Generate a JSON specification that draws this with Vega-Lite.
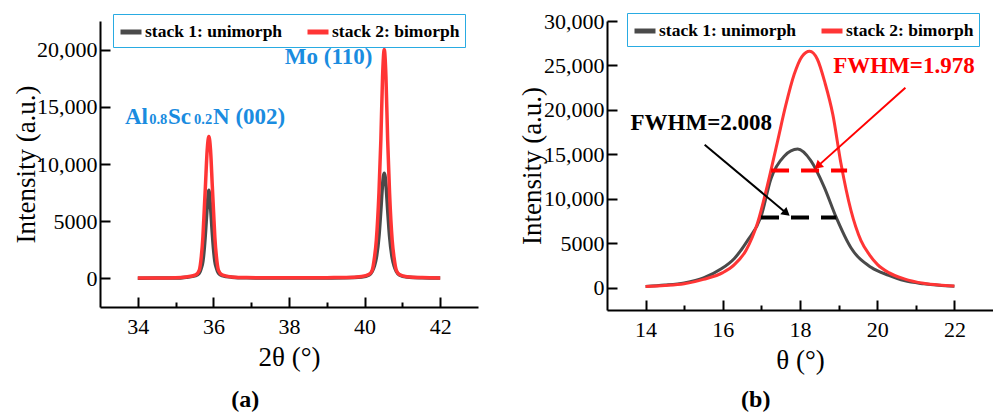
{
  "$schema": "https://vega.github.io/schema/vega-lite/v6.json",
  "padding": {"left": 12, "top": 10, "right": 0, "bottom": 0},
  "background": "white",
  "spacing": 129,
  "bounds": "flush",
  "config": {
    "view": {"stroke": null},
    "font": "Liberation Serif",
    "axis": {
      "ticks": true,
      "domainColor": "black", "domainWidth": 2, "tickColor": "black", "tickWidth": 2,
      "labelFont": "Liberation Serif", "labelFontSize": 22, "labelColor": "black",
      "titleFont": "Liberation Serif", "titleFontSize": 27, "titleFontWeight": "normal", "titleColor": "black",
      "grid": false, "labelOverlap": false, "labelFlush": false
    }
  },
  "resolve": {"legend": {"color": "independent"}, "scale": {"color": "independent"}},
  "datasets": {
    "pa": [
      {"angle": 34, "intensity": 20, "series": "stack 1: unimorph"},
      {"angle": 34.5, "intensity": 25, "series": "stack 1: unimorph"},
      {"angle": 35, "intensity": 35, "series": "stack 1: unimorph"},
      {"angle": 35.28, "intensity": 110, "series": "stack 1: unimorph"},
      {"angle": 35.53, "intensity": 250, "series": "stack 1: unimorph"},
      {"angle": 35.625, "intensity": 450, "series": "stack 1: unimorph"},
      {"angle": 35.68, "intensity": 900, "series": "stack 1: unimorph"},
      {"angle": 35.722, "intensity": 1500, "series": "stack 1: unimorph"},
      {"angle": 35.755, "intensity": 2500, "series": "stack 1: unimorph"},
      {"angle": 35.788, "intensity": 3900, "series": "stack 1: unimorph"},
      {"angle": 35.835, "intensity": 6200, "series": "stack 1: unimorph"},
      {"angle": 35.88, "intensity": 7700, "series": "stack 1: unimorph"},
      {"angle": 35.925, "intensity": 6200, "series": "stack 1: unimorph"},
      {"angle": 35.972, "intensity": 3900, "series": "stack 1: unimorph"},
      {"angle": 36.005, "intensity": 2500, "series": "stack 1: unimorph"},
      {"angle": 36.038, "intensity": 1500, "series": "stack 1: unimorph"},
      {"angle": 36.08, "intensity": 900, "series": "stack 1: unimorph"},
      {"angle": 36.135, "intensity": 450, "series": "stack 1: unimorph"},
      {"angle": 36.23, "intensity": 250, "series": "stack 1: unimorph"},
      {"angle": 36.48, "intensity": 110, "series": "stack 1: unimorph"},
      {"angle": 36.88, "intensity": 50, "series": "stack 1: unimorph"},
      {"angle": 37.5, "intensity": 30, "series": "stack 1: unimorph"},
      {"angle": 38, "intensity": 25, "series": "stack 1: unimorph"},
      {"angle": 38.5, "intensity": 28, "series": "stack 1: unimorph"},
      {"angle": 39, "intensity": 35, "series": "stack 1: unimorph"},
      {"angle": 39.52, "intensity": 50, "series": "stack 1: unimorph"},
      {"angle": 39.92, "intensity": 120, "series": "stack 1: unimorph"},
      {"angle": 40.12, "intensity": 300, "series": "stack 1: unimorph"},
      {"angle": 40.2, "intensity": 600, "series": "stack 1: unimorph"},
      {"angle": 40.26, "intensity": 1100, "series": "stack 1: unimorph"},
      {"angle": 40.31, "intensity": 1800, "series": "stack 1: unimorph"},
      {"angle": 40.38, "intensity": 3700, "series": "stack 1: unimorph"},
      {"angle": 40.43, "intensity": 6000, "series": "stack 1: unimorph"},
      {"angle": 40.475, "intensity": 8200, "series": "stack 1: unimorph"},
      {"angle": 40.52, "intensity": 9200, "series": "stack 1: unimorph"},
      {"angle": 40.565, "intensity": 8200, "series": "stack 1: unimorph"},
      {"angle": 40.61, "intensity": 6000, "series": "stack 1: unimorph"},
      {"angle": 40.66, "intensity": 3700, "series": "stack 1: unimorph"},
      {"angle": 40.73, "intensity": 1800, "series": "stack 1: unimorph"},
      {"angle": 40.78, "intensity": 1100, "series": "stack 1: unimorph"},
      {"angle": 40.84, "intensity": 600, "series": "stack 1: unimorph"},
      {"angle": 40.92, "intensity": 300, "series": "stack 1: unimorph"},
      {"angle": 41.12, "intensity": 120, "series": "stack 1: unimorph"},
      {"angle": 41.52, "intensity": 50, "series": "stack 1: unimorph"},
      {"angle": 42, "intensity": 25, "series": "stack 1: unimorph"},
      {"angle": 34, "intensity": 40, "series": "stack 2: bimorph"},
      {"angle": 34.5, "intensity": 45, "series": "stack 2: bimorph"},
      {"angle": 35, "intensity": 65, "series": "stack 2: bimorph"},
      {"angle": 35.28, "intensity": 125, "series": "stack 2: bimorph"},
      {"angle": 35.53, "intensity": 300, "series": "stack 2: bimorph"},
      {"angle": 35.625, "intensity": 700, "series": "stack 2: bimorph"},
      {"angle": 35.68, "intensity": 1900, "series": "stack 2: bimorph"},
      {"angle": 35.722, "intensity": 3620, "series": "stack 2: bimorph"},
      {"angle": 35.755, "intensity": 5800, "series": "stack 2: bimorph"},
      {"angle": 35.788, "intensity": 8000, "series": "stack 2: bimorph"},
      {"angle": 35.835, "intensity": 11200, "series": "stack 2: bimorph"},
      {"angle": 35.88, "intensity": 12400, "series": "stack 2: bimorph"},
      {"angle": 35.925, "intensity": 11200, "series": "stack 2: bimorph"},
      {"angle": 35.972, "intensity": 8000, "series": "stack 2: bimorph"},
      {"angle": 36.005, "intensity": 5800, "series": "stack 2: bimorph"},
      {"angle": 36.038, "intensity": 3620, "series": "stack 2: bimorph"},
      {"angle": 36.08, "intensity": 1900, "series": "stack 2: bimorph"},
      {"angle": 36.135, "intensity": 700, "series": "stack 2: bimorph"},
      {"angle": 36.23, "intensity": 300, "series": "stack 2: bimorph"},
      {"angle": 36.48, "intensity": 125, "series": "stack 2: bimorph"},
      {"angle": 36.88, "intensity": 70, "series": "stack 2: bimorph"},
      {"angle": 37.5, "intensity": 55, "series": "stack 2: bimorph"},
      {"angle": 38, "intensity": 50, "series": "stack 2: bimorph"},
      {"angle": 38.5, "intensity": 55, "series": "stack 2: bimorph"},
      {"angle": 39, "intensity": 65, "series": "stack 2: bimorph"},
      {"angle": 39.52, "intensity": 75, "series": "stack 2: bimorph"},
      {"angle": 39.92, "intensity": 160, "series": "stack 2: bimorph"},
      {"angle": 40.12, "intensity": 355, "series": "stack 2: bimorph"},
      {"angle": 40.2, "intensity": 700, "series": "stack 2: bimorph"},
      {"angle": 40.26, "intensity": 1800, "series": "stack 2: bimorph"},
      {"angle": 40.31, "intensity": 3330, "series": "stack 2: bimorph"},
      {"angle": 40.38, "intensity": 7500, "series": "stack 2: bimorph"},
      {"angle": 40.43, "intensity": 12100, "series": "stack 2: bimorph"},
      {"angle": 40.475, "intensity": 17600, "series": "stack 2: bimorph"},
      {"angle": 40.52, "intensity": 20000, "series": "stack 2: bimorph"},
      {"angle": 40.565, "intensity": 17600, "series": "stack 2: bimorph"},
      {"angle": 40.61, "intensity": 12100, "series": "stack 2: bimorph"},
      {"angle": 40.66, "intensity": 7500, "series": "stack 2: bimorph"},
      {"angle": 40.73, "intensity": 3330, "series": "stack 2: bimorph"},
      {"angle": 40.78, "intensity": 1800, "series": "stack 2: bimorph"},
      {"angle": 40.84, "intensity": 700, "series": "stack 2: bimorph"},
      {"angle": 40.92, "intensity": 350, "series": "stack 2: bimorph"},
      {"angle": 41.12, "intensity": 150, "series": "stack 2: bimorph"},
      {"angle": 41.52, "intensity": 70, "series": "stack 2: bimorph"},
      {"angle": 42, "intensity": 45, "series": "stack 2: bimorph"}
    ],
    "pb": [
      {"angle": 14.0, "intensity": 150, "series": "stack 1: unimorph"},
      {"angle": 14.5, "intensity": 300, "series": "stack 1: unimorph"},
      {"angle": 15.0, "intensity": 550, "series": "stack 1: unimorph"},
      {"angle": 15.5, "intensity": 1100, "series": "stack 1: unimorph"},
      {"angle": 15.95, "intensity": 2100, "series": "stack 1: unimorph"},
      {"angle": 16.3, "intensity": 3300, "series": "stack 1: unimorph"},
      {"angle": 16.64, "intensity": 5300, "series": "stack 1: unimorph"},
      {"angle": 16.99, "intensity": 8000, "series": "stack 1: unimorph"},
      {"angle": 17.25, "intensity": 12300, "series": "stack 1: unimorph"},
      {"angle": 17.59, "intensity": 14800, "series": "stack 1: unimorph"},
      {"angle": 17.94, "intensity": 15600, "series": "stack 1: unimorph"},
      {"angle": 18.28, "intensity": 14300, "series": "stack 1: unimorph"},
      {"angle": 18.63, "intensity": 11300, "series": "stack 1: unimorph"},
      {"angle": 18.93, "intensity": 8000, "series": "stack 1: unimorph"},
      {"angle": 19.32, "intensity": 4500, "series": "stack 1: unimorph"},
      {"angle": 19.84, "intensity": 2300, "series": "stack 1: unimorph"},
      {"angle": 20.3, "intensity": 1400, "series": "stack 1: unimorph"},
      {"angle": 20.7, "intensity": 800, "series": "stack 1: unimorph"},
      {"angle": 21.2, "intensity": 450, "series": "stack 1: unimorph"},
      {"angle": 21.6, "intensity": 280, "series": "stack 1: unimorph"},
      {"angle": 22.0, "intensity": 180, "series": "stack 1: unimorph"},
      {"angle": 14.0, "intensity": 150, "series": "stack 2: bimorph"},
      {"angle": 14.5, "intensity": 250, "series": "stack 2: bimorph"},
      {"angle": 15.0, "intensity": 450, "series": "stack 2: bimorph"},
      {"angle": 15.5, "intensity": 950, "series": "stack 2: bimorph"},
      {"angle": 16.0, "intensity": 1700, "series": "stack 2: bimorph"},
      {"angle": 16.3, "intensity": 2600, "series": "stack 2: bimorph"},
      {"angle": 16.6, "intensity": 4200, "series": "stack 2: bimorph"},
      {"angle": 16.9, "intensity": 7300, "series": "stack 2: bimorph"},
      {"angle": 17.16, "intensity": 11600, "series": "stack 2: bimorph"},
      {"angle": 17.42, "intensity": 16500, "series": "stack 2: bimorph"},
      {"angle": 17.63, "intensity": 20500, "series": "stack 2: bimorph"},
      {"angle": 17.85, "intensity": 24000, "series": "stack 2: bimorph"},
      {"angle": 18.05, "intensity": 26000, "series": "stack 2: bimorph"},
      {"angle": 18.25, "intensity": 26600, "series": "stack 2: bimorph"},
      {"angle": 18.45, "intensity": 25700, "series": "stack 2: bimorph"},
      {"angle": 18.65, "intensity": 23000, "series": "stack 2: bimorph"},
      {"angle": 18.85, "intensity": 19500, "series": "stack 2: bimorph"},
      {"angle": 19.06, "intensity": 14000, "series": "stack 2: bimorph"},
      {"angle": 19.32, "intensity": 8700, "series": "stack 2: bimorph"},
      {"angle": 19.58, "intensity": 5300, "series": "stack 2: bimorph"},
      {"angle": 19.8, "intensity": 3700, "series": "stack 2: bimorph"},
      {"angle": 20.01, "intensity": 2600, "series": "stack 2: bimorph"},
      {"angle": 20.3, "intensity": 1700, "series": "stack 2: bimorph"},
      {"angle": 20.7, "intensity": 1000, "series": "stack 2: bimorph"},
      {"angle": 21.2, "intensity": 500, "series": "stack 2: bimorph"},
      {"angle": 21.6, "intensity": 300, "series": "stack 2: bimorph"},
      {"angle": 22.0, "intensity": 200, "series": "stack 2: bimorph"}
    ]
  },
  "hconcat": [
    {
      "width": 378,
      "height": 286,
      "title": {"text": "(a)", "orient": "bottom", "frame": "bounds", "anchor": "middle", "offset": 18, "fontSize": 24, "fontWeight": "bold", "font": "Liberation Serif", "color": "black"},
      "layer": [
        {
          "data": {"name": "pa"},
          "mark": {"type": "line", "strokeWidth": 3.5, "interpolate": "monotone"},
          "encoding": {
            "x": {"field": "angle", "type": "quantitative",
              "scale": {"domain": [33, 43], "nice": false, "zero": false},
              "axis": {"title": "2θ (°)", "values": [34, 35, 36, 37, 38, 39, 40, 41, 42],
                "labelExpr": "datum.value % 2 == 0 ? datum.label : ''",
                "tickSize": {"condition": {"test": "datum.value % 2 != 0", "value": -5}, "value": -10},
                "labelPadding": 19, "titlePadding": 2}},
            "y": {"field": "intensity", "type": "quantitative",
              "scale": {"domain": [-2500, 22500], "nice": false, "zero": false},
              "axis": {"title": "Intensity (a.u.)", "values": [0, 2500, 5000, 7500, 10000, 12500, 15000, 17500, 20000, 22500],
                "labelExpr": "datum.value % 5000 != 0 ? '' : (datum.value >= 10000 ? format(datum.value, ',') : format(datum.value, 'd'))",
                "tickSize": {"condition": {"test": "datum.value % 5000 != 0", "value": -5}, "value": -10},
                "labelPadding": 13, "titlePadding": -4}},
            "color": {"field": "series", "type": "nominal",
              "scale": {"domain": ["stack 1: unimorph", "stack 2: bimorph"], "range": ["#4a4a4a", "#ff3535"]},
              "legend": {"orient": "none", "legendX": 13, "legendY": -7, "direction": "horizontal", "title": null,
                "strokeColor": "#29abe2", "fillColor": "white", "padding": 5,
                "symbolType": "stroke", "symbolStrokeWidth": 5, "symbolSize": 441,
                "labelFont": "Liberation Serif", "labelFontWeight": "bold", "labelFontSize": 17.5, "labelColor": "black",
                "columnPadding": 14, "labelOffset": 1}}
          }
        },
        {
          "data": {"values": [{"angle": 37.89, "intensity": 18770, "label": "Mo (110)"}, {"angle": 33.66, "intensity": 13500, "label": "Al"}, {"angle": 34.80, "intensity": 13500, "label": "Sc"}, {"angle": 35.99, "intensity": 13500, "label": "N (002)"}]},
          "mark": {"type": "text", "align": "left", "baseline": "alphabetic", "font": "Liberation Serif", "fontWeight": "bold", "fontSize": 23, "color": "#1a8ce0"},
          "encoding": {
            "x": {"field": "angle", "type": "quantitative"},
            "y": {"field": "intensity", "type": "quantitative"},
            "text": {"field": "label"}
          }
        },
        {
          "data": {"values": [{"angle": 34.30, "intensity": 13500, "label": "0.8"}, {"angle": 35.49, "intensity": 13500, "label": "0.2"}]},
          "mark": {"type": "text", "align": "left", "baseline": "alphabetic", "font": "Liberation Serif", "fontWeight": "bold", "fontSize": 14.5, "color": "#1a8ce0"},
          "encoding": {
            "x": {"field": "angle", "type": "quantitative"},
            "y": {"field": "intensity", "type": "quantitative"},
            "text": {"field": "label"}
          }
        }
      ]
    },
    {
      "width": 386,
      "height": 289,
      "title": {"text": "(b)", "orient": "bottom", "frame": "bounds", "anchor": "middle", "offset": 15, "fontSize": 24, "fontWeight": "bold", "font": "Liberation Serif", "color": "black"},
      "layer": [
        {
          "data": {"name": "pb"},
          "mark": {"type": "line", "strokeWidth": 3, "interpolate": "monotone"},
          "encoding": {
            "x": {"field": "angle", "type": "quantitative",
              "scale": {"domain": [13, 23], "nice": false, "zero": false},
              "axis": {"title": "θ (°)", "values": [14, 15, 16, 17, 18, 19, 20, 21, 22],
                "labelExpr": "datum.value % 2 == 0 ? datum.label : ''",
                "tickSize": {"condition": {"test": "datum.value % 2 != 0", "value": -5}, "value": -10},
                "labelPadding": 19, "titlePadding": 2}},
            "y": {"field": "intensity", "type": "quantitative",
              "scale": {"domain": [-2500, 30000], "nice": false, "zero": false},
              "axis": {"title": "Intensity (a.u.)", "values": [0, 2500, 5000, 7500, 10000, 12500, 15000, 17500, 20000, 22500, 25000, 27500, 30000],
                "labelExpr": "datum.value % 5000 != 0 ? '' : (datum.value >= 10000 ? format(datum.value, ',') : format(datum.value, 'd'))",
                "tickSize": {"condition": {"test": "datum.value % 5000 != 0", "value": -5}, "value": -10},
                "labelPadding": 13, "titlePadding": -3}},
            "color": {"field": "series", "type": "nominal",
              "scale": {"domain": ["stack 1: unimorph", "stack 2: bimorph"], "range": ["#4a4a4a", "#ff3535"]},
              "legend": {"orient": "none", "legendX": 20, "legendY": -8, "direction": "horizontal", "title": null,
                "strokeColor": "#29abe2", "fillColor": "white", "padding": 5,
                "symbolType": "stroke", "symbolStrokeWidth": 5, "symbolSize": 441,
                "labelFont": "Liberation Serif", "labelFontWeight": "bold", "labelFontSize": 17.5, "labelColor": "black",
                "columnPadding": 14, "labelOffset": 1}}
          }
        },
        {
          "data": {"values": [{"start": 17.25, "end": 19.22, "level": 13200}]},
          "mark": {"type": "rule", "color": "#ff0000", "strokeWidth": 4, "strokeDash": [18, 12]},
          "encoding": {
            "x": {"field": "start", "type": "quantitative"},
            "x2": {"field": "end"},
            "y": {"field": "level", "type": "quantitative"}
          }
        },
        {
          "data": {"values": [{"start": 16.99, "end": 18.94, "level": 7900}]},
          "mark": {"type": "rule", "color": "#000000", "strokeWidth": 4, "strokeDash": [18, 12]},
          "encoding": {
            "x": {"field": "start", "type": "quantitative"},
            "x2": {"field": "end"},
            "y": {"field": "level", "type": "quantitative"}
          }
        },
        {
          "data": {"values": [{"xs": 20.73, "ys": 22480, "xe": 18.46, "ye": 13680}]},
          "mark": {"type": "rule", "color": "#ff0000", "strokeWidth": 2},
          "encoding": {
            "x": {"field": "xs", "type": "quantitative"},
            "y": {"field": "ys", "type": "quantitative"},
            "x2": {"field": "xe"},
            "y2": {"field": "ye"}
          }
        },
        {
          "data": {"values": [{"xs": 15.53, "ys": 16073, "xe": 17.65, "ye": 8385}]},
          "mark": {"type": "rule", "color": "#000000", "strokeWidth": 2},
          "encoding": {
            "x": {"field": "xs", "type": "quantitative"},
            "y": {"field": "ys", "type": "quantitative"},
            "x2": {"field": "xe"},
            "y2": {"field": "ye"}
          }
        },
        {
          "data": {"values": [{"xp": 18.46, "yp": 13680}]},
          "mark": {"type": "point", "shape": "triangle-up", "angle": 228, "filled": true, "size": 90, "color": "#ff0000", "opacity": 1},
          "encoding": {
            "x": {"field": "xp", "type": "quantitative"},
            "y": {"field": "yp", "type": "quantitative"}
          }
        },
        {
          "data": {"values": [{"xp": 17.65, "yp": 8385}]},
          "mark": {"type": "point", "shape": "triangle-up", "angle": 130, "filled": true, "size": 90, "color": "#000000", "opacity": 1},
          "encoding": {
            "x": {"field": "xp", "type": "quantitative"},
            "y": {"field": "yp", "type": "quantitative"}
          }
        },
        {
          "data": {"values": [{"xp": 18.86, "yp": 24166, "label": "FWHM=1.978"}]},
          "mark": {"type": "text", "align": "left", "baseline": "alphabetic", "font": "Liberation Serif", "fontWeight": "bold", "fontSize": 23, "color": "#ff0000"},
          "encoding": {
            "x": {"field": "xp", "type": "quantitative"},
            "y": {"field": "yp", "type": "quantitative"},
            "text": {"field": "label"}
          }
        },
        {
          "data": {"values": [{"xp": 13.61, "yp": 17760, "label": "FWHM=2.008"}]},
          "mark": {"type": "text", "align": "left", "baseline": "alphabetic", "font": "Liberation Serif", "fontWeight": "bold", "fontSize": 23, "color": "#000000"},
          "encoding": {
            "x": {"field": "xp", "type": "quantitative"},
            "y": {"field": "yp", "type": "quantitative"},
            "text": {"field": "label"}
          }
        }
      ]
    }
  ]
}
